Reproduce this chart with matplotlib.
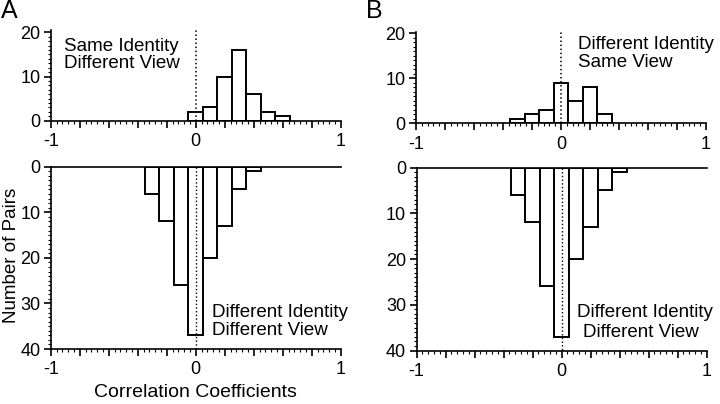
import numpy as np
import matplotlib
matplotlib.use("Agg")
import matplotlib.pyplot as plt
from matplotlib.ticker import MultipleLocator, FixedLocator

plt.rcParams['font.family'] = ['Liberation Sans', 'DejaVu Sans']

# Data: bin centers (width 0.1) and counts
centers_A_top = [0.0, 0.1, 0.2, 0.3, 0.4, 0.5, 0.6]
counts_A_top = [2, 3, 10, 16, 6, 2, 1]
centers_B_top = [-0.3, -0.2, -0.1, 0.0, 0.1, 0.2, 0.3]
counts_B_top = [1, 2, 3, 9, 5, 8, 2]
centers_bottom = [-0.3, -0.2, -0.1, 0.0, 0.1, 0.2, 0.3, 0.4]
counts_bottom = [6, 12, 26, 37, 20, 13, 5, 1]

x_tick_labels = {-1: "-1", 0: "0", 1: "1"}

fig = plt.figure(figsize=(7.2, 4.04), dpi=100)

def px(x0, y0, x1, y1):
    W, H = 720, 404
    return [x0 / W, 1 - y1 / H, (x1 - x0) / W, (y1 - y0) / H]

ax_At = fig.add_axes(px(50.7, 30.1, 340.7, 120.7))
ax_Bt = fig.add_axes(px(416.0, 31.7, 706.0, 123.3))
ax_Ab = fig.add_axes(px(50.7, 166.7, 340.7, 349.0))
ax_Bb = fig.add_axes(px(416.5, 167.5, 706.5, 350.5))

LW = 1.2
TS = 13
AS = 13.5

def style(ax, top_panel, ymax):
    ax.set_xlim(-1, 1)
    if top_panel:
        ax.set_ylim(0, ymax)
        ax.spines['top'].set_visible(False)
    else:
        ax.set_ylim(40, 0)
        ax.spines['top'].set_visible(True)
    ax.spines['right'].set_visible(False)
    for s in ['left', 'bottom', 'top']:
        ax.spines[s].set_linewidth(LW)
    majors = np.round(np.arange(-1, 1.001, 0.2), 2)
    ax.xaxis.set_major_locator(FixedLocator(majors))
    ax.set_xticklabels([x_tick_labels.get(int(round(m)) if abs(m - round(m)) < 1e-6 else None, "") for m in majors])
    ax.xaxis.set_minor_locator(MultipleLocator(0.04))
    ax.yaxis.set_major_locator(MultipleLocator(10))
    ax.yaxis.set_minor_locator(MultipleLocator(1))
    ax.tick_params(axis='both', which='major', direction='out', length=5, width=LW, labelsize=TS, pad=2.5)
    ax.tick_params(axis='x', which='major', pad=4)
    ax.tick_params(axis='both', which='minor', direction='out', length=2.5, width=0.8)
    ax.tick_params(axis='x', which='both', top=False, bottom=True)
    ax.tick_params(axis='y', which='both', right=False, left=True)

def bars(ax, centers, counts):
    ax.bar(centers, counts, width=0.1, facecolor='white', edgecolor='black',
           linewidth=1.4, zorder=2)

bars(ax_At, centers_A_top, counts_A_top)
bars(ax_Bt, centers_B_top, counts_B_top)
bars(ax_Ab, centers_bottom, counts_bottom)
bars(ax_Bb, centers_bottom, counts_bottom)

style(ax_At, True, 20.5)
style(ax_Bt, True, 20.4)
style(ax_Ab, False, 40)
style(ax_Bb, False, 40)

# dotted zero lines
ax_At.plot([0, 0], [0, 21.0], ls=':', color='black', lw=1.1, zorder=3, clip_on=False)
ax_Bt.plot([0, 0], [0, 20.8], ls=':', color='black', lw=1.1, zorder=3, clip_on=False)
ax_Ab.plot([0, 0], [0, 40], ls=':', color='black', lw=1.0, zorder=3)
ax_Bb.plot([0, 0], [0, 40], ls=':', color='black', lw=1.0, zorder=3)

# annotations
ax_At.text(-0.91, 14.9, "Same Identity\nDifferent View", fontsize=AS, ha='left', va='center',
           linespacing=1.05)
ax_Bt.text(0.12, 15.5, "Different Identity\nSame View", fontsize=AS, ha='left', va='center',
           linespacing=1.05)
ax_Ab.text(0.11, 34.0, "Different Identity\nDifferent View", fontsize=AS, ha='left', va='center',
           linespacing=1.05)
ax_Bb.text(0.11, 31.8, "Different Identity", fontsize=AS, ha='left', va='center')
ax_Bb.text(0.145, 36.0, "Different View", fontsize=AS, ha='left', va='center')

ax_Ab.set_xlabel("Correlation Coefficients", fontsize=14, labelpad=4)
fig.text(12 / 720, 1 - 255 / 404, "Number of Pairs", rotation=90, fontsize=AS,
         ha='center', va='center')

fig.text(1 / 720, 1 - 11 / 404, "A", fontsize=18, ha='left', va='center')
fig.text(366 / 720, 1 - 11 / 404, "B", fontsize=18, ha='left', va='center')

fig.savefig("out.png", dpi=100)
